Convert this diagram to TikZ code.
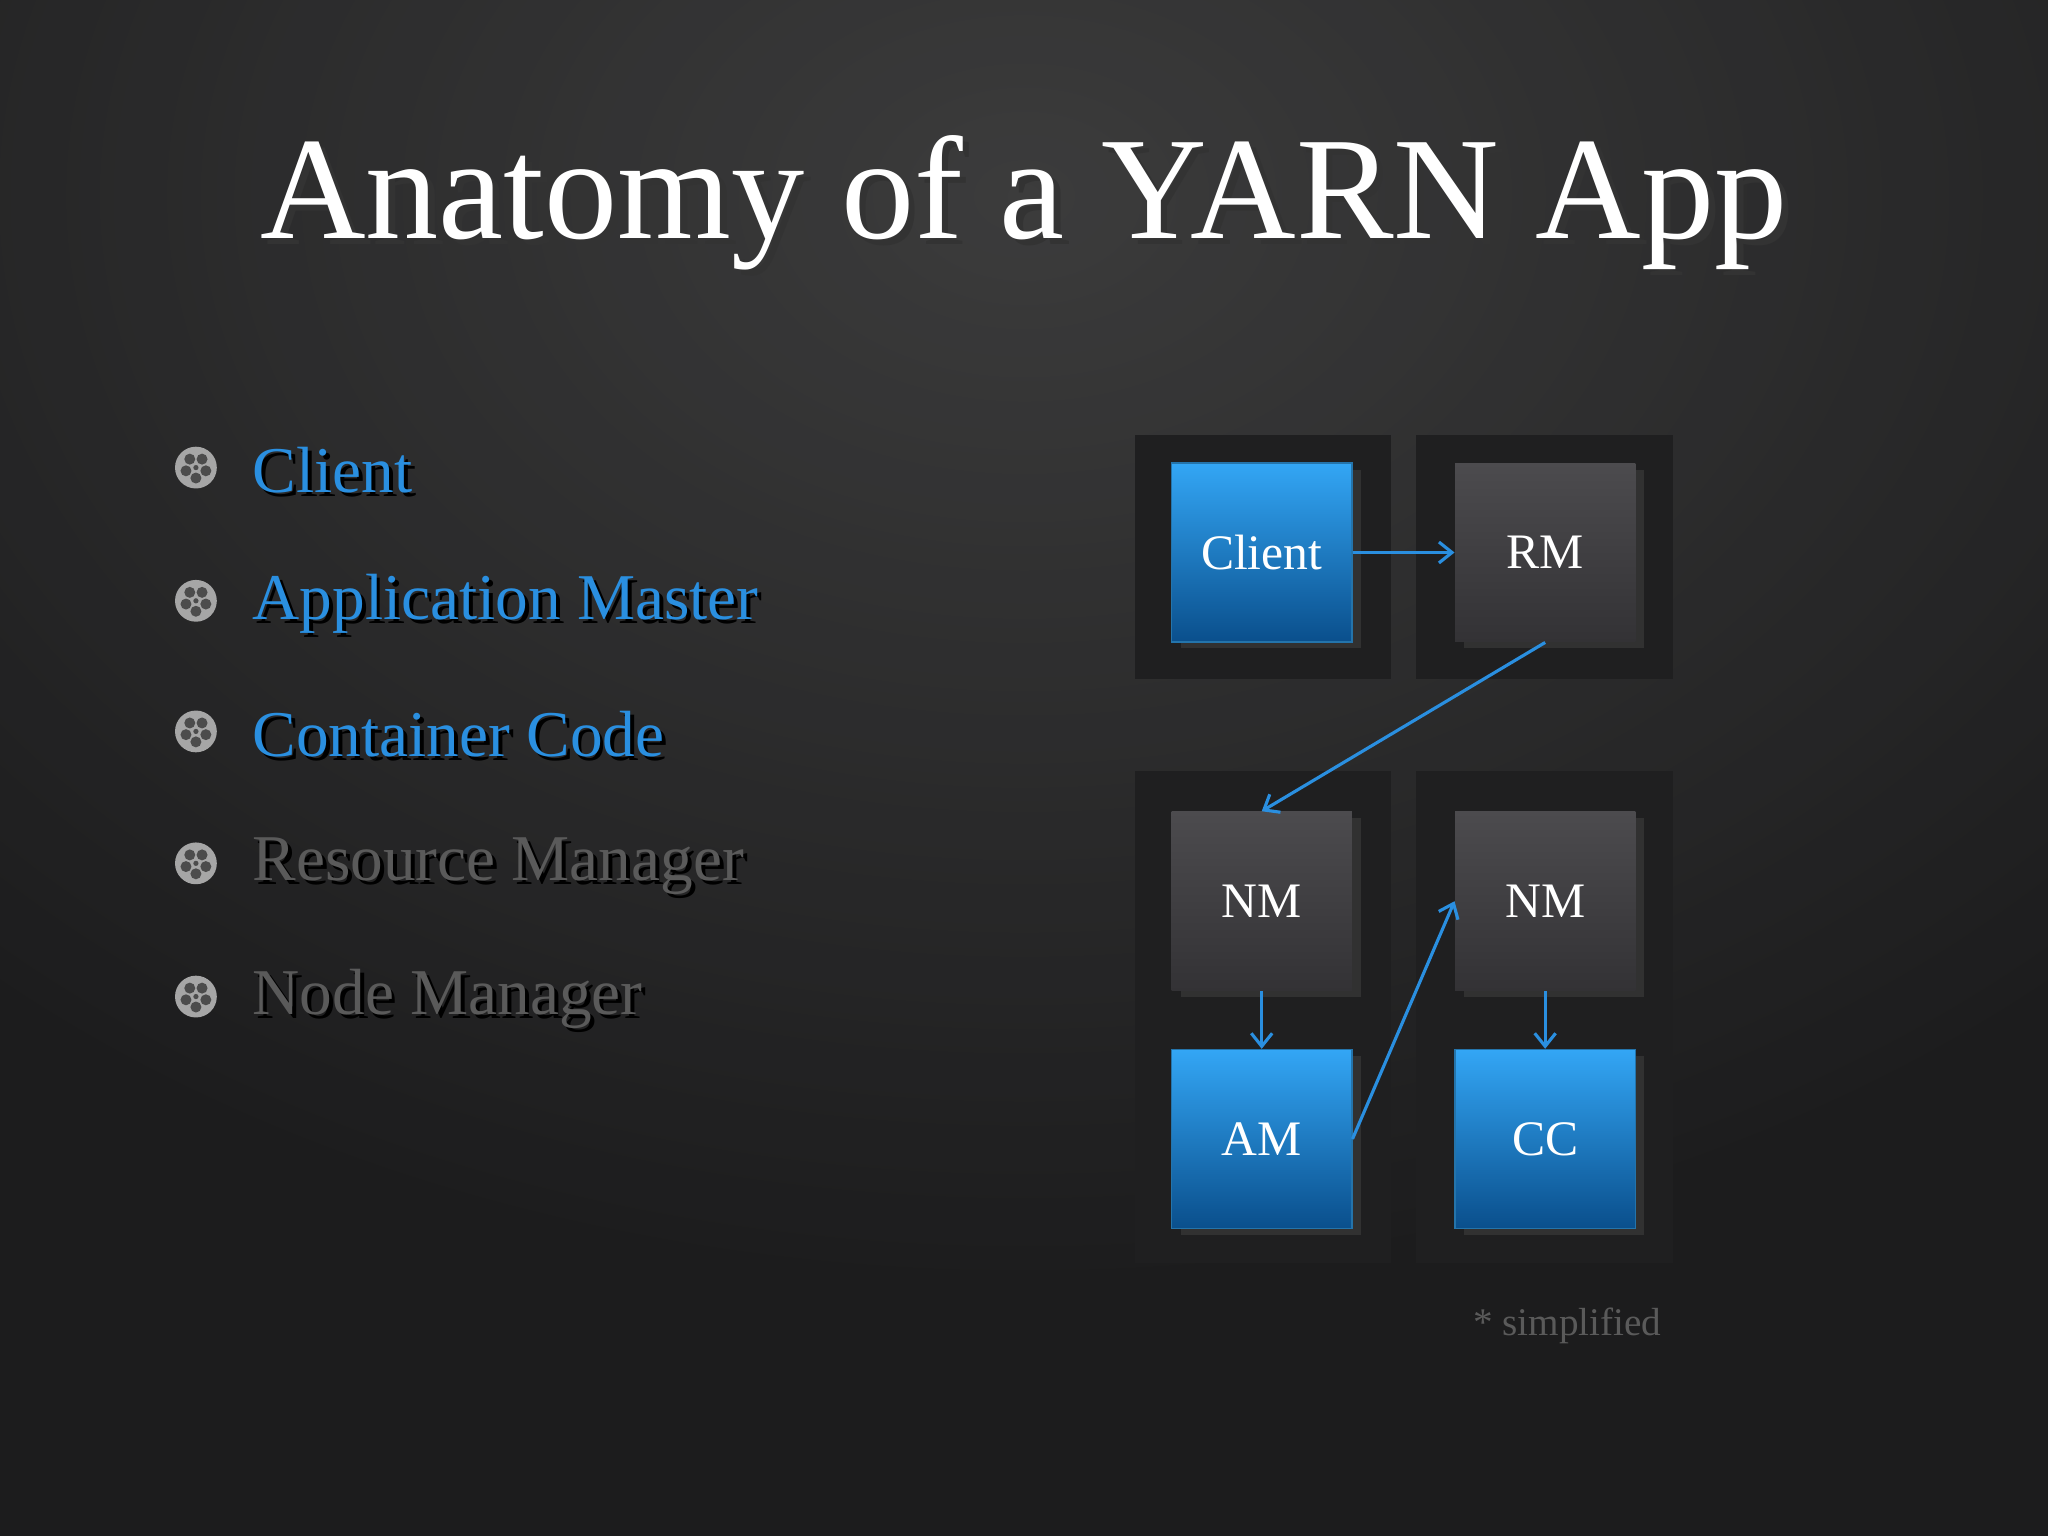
\documentclass[tikz,border=0pt]{standalone}
\usepackage{fontspec}
\setmainfont{Liberation Serif}
\usetikzlibrary{shadows,calc,arrows.meta}
\definecolor{bgin}{HTML}{4A4A4A}
\definecolor{bgout}{HTML}{1C1C1D}
\definecolor{panel}{HTML}{1F1F20}
\definecolor{blu}{HTML}{2A8FE0}
\definecolor{bluetop}{HTML}{33A6F5}
\definecolor{bluebot}{HTML}{0A4F8C}
\definecolor{grtop}{HTML}{4C4B4E}
\definecolor{grbot}{HTML}{333235}
\definecolor{txtgray}{HTML}{5A5A5A}
\tikzset{
 box/.style={minimum width=69pt,minimum height=68.5pt,inner sep=0pt,text=white,font=\fontsize{19}{19}\selectfont,
   drop shadow={shadow xshift=3.5pt,shadow yshift=-2.5pt,fill=black!60!gray,opacity=0.9}},
 bbox/.style={box,top color=bluetop,bottom color=bluebot,draw=bluetop!70!black,line width=0.5pt},
 gbox/.style={box,top color=grtop,bottom color=grbot},
 arr/.style={->,draw=blu,line width=1.2pt,>={Straight Barb[length=5pt,width=8pt]}},
 bul/.style={anchor=west,inner sep=0pt,font=\fontsize{25}{25}\selectfont},
}
\begin{document}
\begin{tikzpicture}[x=0.5pt,y=-0.5pt]
\useasboundingbox (0,0) rectangle (1568,1176);
\fill[bgout] (0,0) rectangle (1568,1176);
\shade[inner color=bgin,outer color=bgout] (-400,-700) rectangle (1968,1000);
\fill[bgout,opacity=0.3] (0,0) rectangle (1568,1176);
% title
\node[font=\fontsize{56}{56}\selectfont,text=black!80] at (789,160) {Anatomy of a YARN App};
\node[font=\fontsize{56}{56}\selectfont,text=white] (title) at (784,155) {Anatomy of a YARN App};
% bullets
\foreach \y/\t/\c [count=\i] in {360/Client/blu,462/Application Master/blu,562/Container Code/blu,663/Resource Manager/txtgray,765/Node Manager/txtgray}{
  \fill[gray!70] (150,\y-2) circle (16);
  \foreach \a in {0,72,144,216,288} \fill[black!70] ($(150,\y-2)+(\a+90:8)$) circle (4.2);
  \fill[black!70] (150,\y-2) circle (2);
  \node[bul,text=black] at (196,\y+3) {\t};
  \node[bul,text=\c] (b\i) at (193,\y) {\t};
}
% panels
\fill[panel] (869,333) rectangle (1065,520);
\fill[panel] (1084,333) rectangle (1281,520);
\fill[panel] (869,590) rectangle (1065,967);
\fill[panel] (1084,590) rectangle (1281,967);
% boxes
\node[bbox] (client) at (966,423) {Client};
\node[gbox] (rm) at (1183,423) {RM};
\node[gbox] (nm1) at (966,690) {NM};
\node[gbox] (nm2) at (1183,690) {NM};
\node[bbox] (am) at (966,872) {AM};
\node[bbox] (cc) at (1183,872) {CC};
% arrows
\draw[arr] (client.east) -- (rm.west);
\draw[arr] (rm.south) -- (nm1.north);
\draw[arr] (nm1.south) -- (am.north);
\draw[arr] (am.east) -- (nm2.west);
\draw[arr] (nm2.south) -- (cc.north);
\node[text=txtgray,font=\fontsize{15}{15}\selectfont] (simp) at (1200,1015) {* simplified};
\end{tikzpicture}
\end{document}
